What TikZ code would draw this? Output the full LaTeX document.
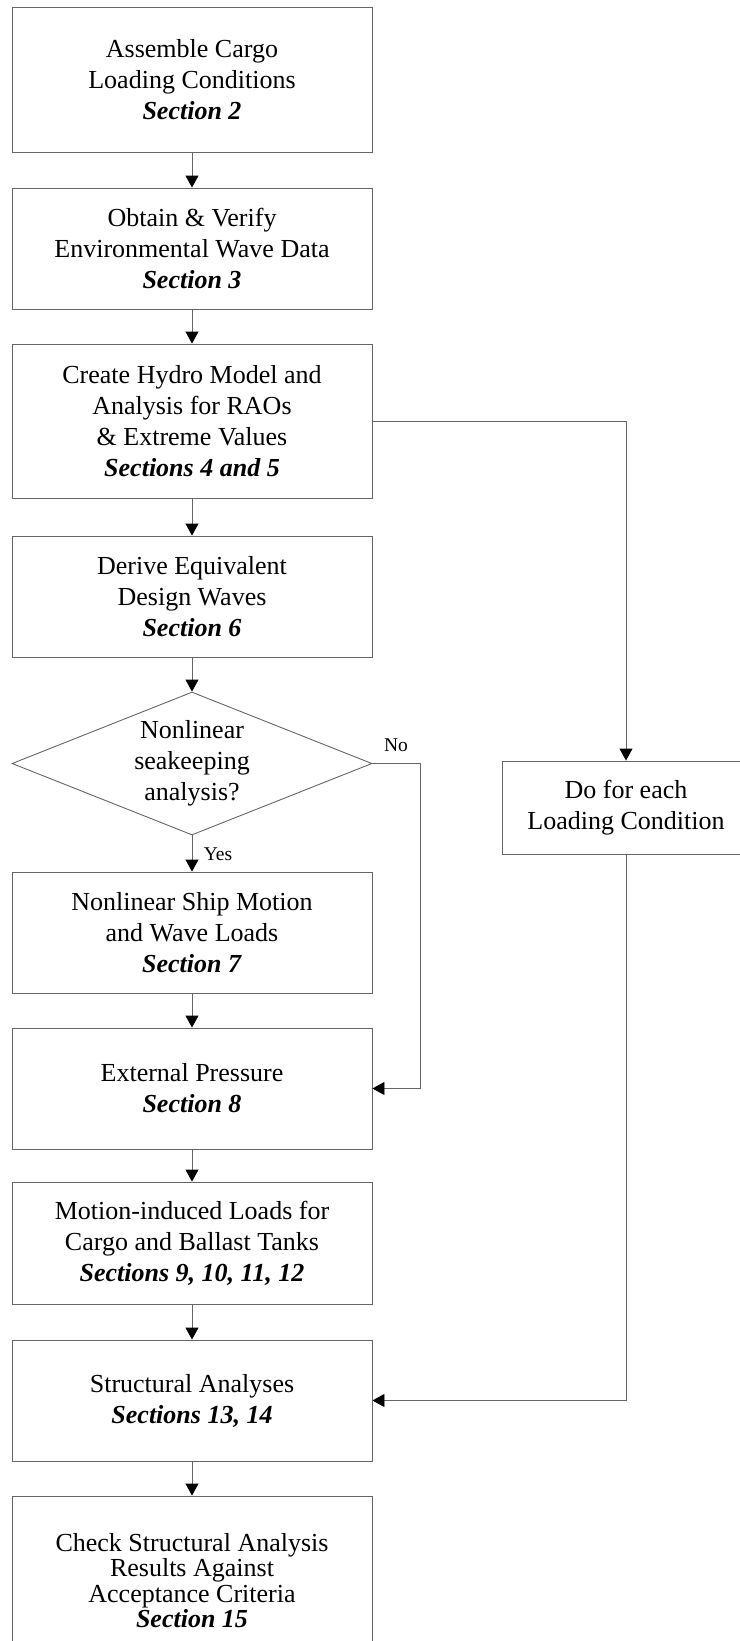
\documentclass[tikz,border=0pt]{standalone}
\usepackage{fontspec}
\setmainfont{Liberation Serif}
\usetikzlibrary{arrows.meta, shapes.geometric}

\begin{document}
\begin{tikzpicture}[x=1pt, y=-1pt,
    block/.style={rectangle,draw=black!60,line width=0.9pt,minimum width=360pt,inner sep=0,align=center,font=\fontsize{26}{31}\selectfont},
    tall block/.style={block,font=\fontsize{26}{25.3}\selectfont},
    side/.style={block,minimum width=248pt},
    test/.style={diamond,draw=black!60,line width=0.9pt,minimum width=360pt,minimum height=143pt,inner sep=0},
    answer/.style={font=\fontsize{19.5}{22}\selectfont,inner sep=0},
    arr/.style={draw=black!60,line width=0.9pt,-{Triangle[width=13pt,length=12pt,color=black]}}]

    \useasboundingbox (0,0) rectangle (739,1641);

    \node[block,minimum height=145pt] (cargo) at (192,79.5)
        {Assemble Cargo\\Loading Conditions\\\textbf{\textit{Section 2}}};
    \node[block,minimum height=121pt] (wavedata) at (192,248.5)
        {Obtain \& Verify\\Environmental Wave Data\\\textbf{\textit{Section 3}}};
    \node[block,minimum height=154pt] (hydro) at (192,421)
        {Create Hydro Model and\\Analysis for RAOs\\\& Extreme Values\\\textbf{\textit{Sections 4 and 5}}};
    \node[block,minimum height=121pt] (designwave) at (192,596.5)
        {Derive Equivalent\\Design Waves\\\textbf{\textit{Section 6}}};
    \node[test] (nonlin) at (192,763.5) {};
    \node[align=center,inner sep=0,font=\fontsize{26}{31}\selectfont] (nonlintext) at (nonlin)
        {Nonlinear\\seakeeping\\analysis?};
    \node[block,minimum height=121pt] (shipmotion) at (192,932.5)
        {Nonlinear Ship Motion\\and Wave Loads\\\textbf{\textit{Section 7}}};
    \node[block,minimum height=121pt] (pressure) at (192,1088.5)
        {External Pressure\\\textbf{\textit{Section 8}}};
    \node[block,minimum height=122pt] (tankload) at (192,1243)
        {Motion-induced Loads for\\Cargo and Ballast Tanks\\\textbf{\textit{Sections 9, 10, 11, 12}}};
    \node[block,minimum height=121pt] (structure) at (192,1400.5)
        {Structural Analyses\\\textbf{\textit{Sections 13, 14}}};
    \node[tall block,minimum height=169pt] (check) at (192,1580.5)
        {Check Structural Analysis\\Results Against\\Acceptance Criteria\\\textbf{\textit{Section 15}}};

    \node[side,minimum height=93pt] (each) at (626,807.5)
        {Do for each\\Loading Condition};

    % main column
    \draw[arr] (cargo) -- (wavedata);
    \draw[arr] (wavedata) -- (hydro);
    \draw[arr] (hydro) -- (designwave);
    \draw[arr] (designwave) -- (nonlin);
    \draw[arr] (nonlin) -- (shipmotion);
    \draw[arr] (shipmotion) -- (pressure);
    \draw[arr] (pressure) -- (tankload);
    \draw[arr] (tankload) -- (structure);
    \draw[arr] (structure) -- (check);

    % branches
    \coordinate (nobend) at (420,763.5);
    \draw[arr] (nonlin.east) -- (nobend) |- (pressure.east);
    \node[answer] (nolabel) at (396,745) {No};
    \node[answer] (yeslabel) at (218,854) {Yes};

    \draw[arr] (hydro.east) -| (each.north);
    \draw[arr] (each.south) |- (structure.east);
\end{tikzpicture}
\end{document}
